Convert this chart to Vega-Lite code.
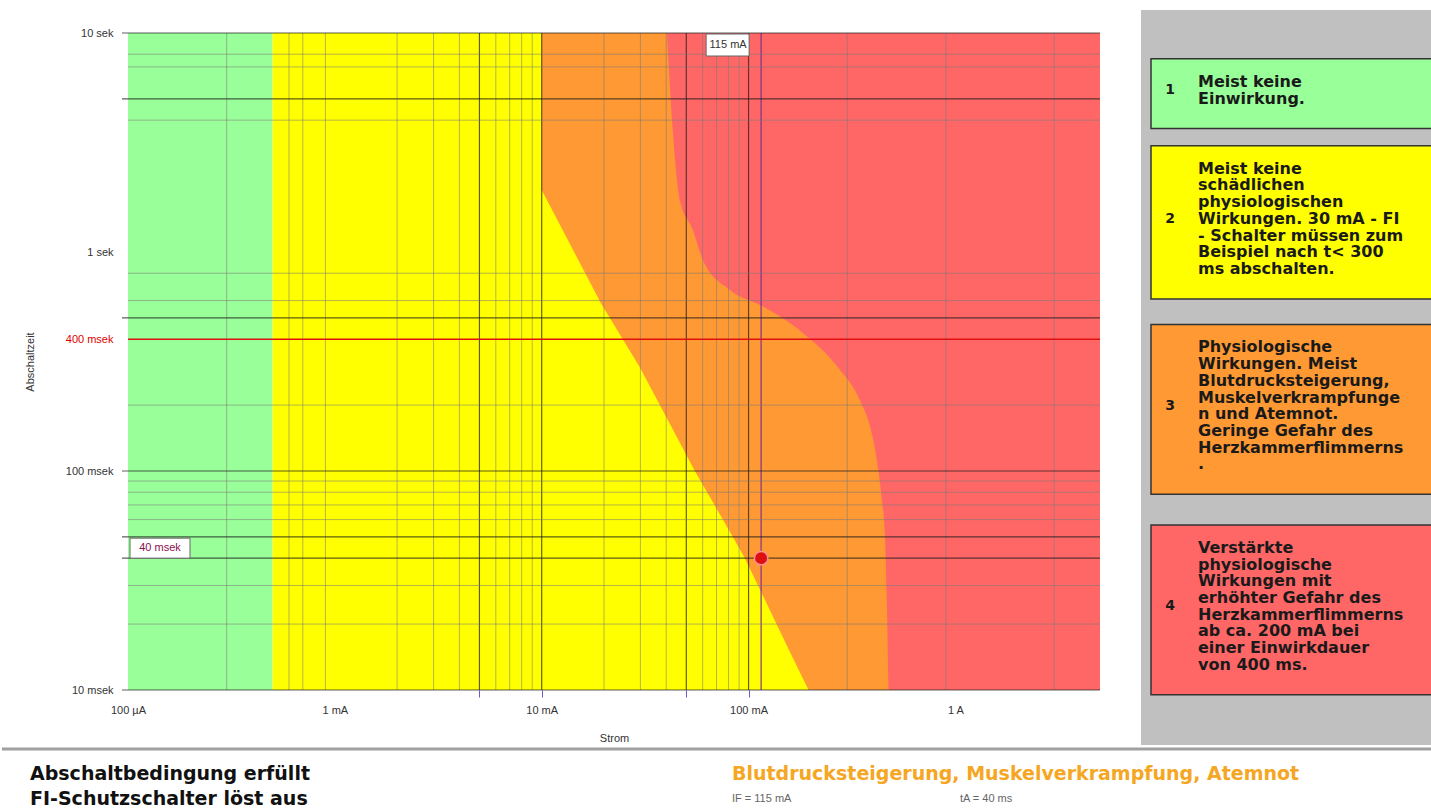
{
  "$schema": "https://vega.github.io/schema/vega-lite/v6.json",
  "background": "white",
  "padding": {"left": 0, "top": 10, "right": 0, "bottom": 0},
  "config": {"view": {"stroke": null}, "font": "Liberation Sans", "axis": {"grid": false}},
  "datasets": {
    "zonen": [
      {"zone": "1", "von": 0.1, "bis": 0.5},
      {"zone": "2", "von": 0.5, "bis": 5000}
    ],
    "kurven": [
      {"zone": "3", "I": 10, "t": 1919},
      {"zone": "3", "I": 19.3, "t": 585},
      {"zone": "3", "I": 29.8, "t": 298},
      {"zone": "3", "I": 55, "t": 100},
      {"zone": "3", "I": 84, "t": 50},
      {"zone": "3", "I": 96, "t": 40},
      {"zone": "3", "I": 120, "t": 25.8},
      {"zone": "3", "I": 157, "t": 15.2},
      {"zone": "3", "I": 195, "t": 10},
      {"zone": "3", "I": 5000, "t": 10},
      {"zone": "4", "I": 40.3, "t": 10000},
      {"zone": "4", "I": 43.1, "t": 3494},
      {"zone": "4", "I": 46.5, "t": 1727},
      {"zone": "4", "I": 53.8, "t": 1260},
      {"zone": "4", "I": 60.1, "t": 919},
      {"zone": "4", "I": 81.2, "t": 671},
      {"zone": "4", "I": 117, "t": 565},
      {"zone": "4", "I": 183, "t": 427},
      {"zone": "4", "I": 270, "t": 298},
      {"zone": "4", "I": 345, "t": 211},
      {"zone": "4", "I": 394, "t": 149},
      {"zone": "4", "I": 422, "t": 104},
      {"zone": "4", "I": 441, "t": 73.8},
      {"zone": "4", "I": 456, "t": 52.1},
      {"zone": "4", "I": 466, "t": 25.8},
      {"zone": "4", "I": 477, "t": 10},
      {"zone": "4", "I": 5000, "t": 10}
    ],
    "vlinien": [
      {"I": 0.3, "art": "minor"}, {"I": 0.6, "art": "minor"}, {"I": 0.7, "art": "minor"}, {"I": 0.9, "art": "minor"},
      {"I": 2, "art": "minor"}, {"I": 3, "art": "minor"}, {"I": 4, "art": "minor"}, {"I": 6, "art": "minor"},
      {"I": 7, "art": "minor"}, {"I": 8, "art": "minor"}, {"I": 9, "art": "minor"},
      {"I": 20, "art": "minor"}, {"I": 30, "art": "minor"}, {"I": 40, "art": "minor"}, {"I": 60, "art": "minor"},
      {"I": 70, "art": "minor"}, {"I": 80, "art": "minor"}, {"I": 90, "art": "minor"},
      {"I": 300, "art": "minor"}, {"I": 900, "art": "minor"}, {"I": 3000, "art": "minor"},
      {"I": 5, "art": "major"}, {"I": 10, "art": "major"}, {"I": 50, "art": "major"}, {"I": 100, "art": "major"},
      {"I": 115, "art": "marker"}
    ],
    "hlinien": [
      {"t": 8000, "art": "minor"}, {"t": 7000, "art": "minor"}, {"t": 4000, "art": "minor"},
      {"t": 800, "art": "minor"}, {"t": 600, "art": "minor"}, {"t": 200, "art": "minor"},
      {"t": 90, "art": "minor"}, {"t": 80, "art": "minor"}, {"t": 70, "art": "minor"}, {"t": 60, "art": "minor"},
      {"t": 30, "art": "minor"}, {"t": 20, "art": "minor"},
      {"t": 400, "art": "limit"},
      {"t": 10000, "art": "major"}, {"t": 5000, "art": "major"}, {"t": 500, "art": "major"},
      {"t": 100, "art": "major"}, {"t": 50, "art": "major"}, {"t": 40, "art": "major"}, {"t": 10, "art": "major"}
    ],
    "marke": [{"I": 115, "t": 40, "strom": "115 mA", "zeit": "40 msek"}],
    "legende": [
      {"zone": "1", "pos": 4.3, "zeile": "Meist keine"},
      {"zone": "1", "pos": 5.3, "zeile": "Einwirkung."},
      {"zone": "2", "pos": 9.5, "zeile": "Meist keine"},
      {"zone": "2", "pos": 10.5, "zeile": "schädlichen"},
      {"zone": "2", "pos": 11.5, "zeile": "physiologischen"},
      {"zone": "2", "pos": 12.5, "zeile": "Wirkungen. 30 mA - FI"},
      {"zone": "2", "pos": 13.5, "zeile": "- Schalter müssen zum"},
      {"zone": "2", "pos": 14.5, "zeile": "Beispiel nach t< 300"},
      {"zone": "2", "pos": 15.5, "zeile": "ms abschalten."},
      {"zone": "3", "pos": 20.2, "zeile": "Physiologische"},
      {"zone": "3", "pos": 21.2, "zeile": "Wirkungen. Meist"},
      {"zone": "3", "pos": 22.2, "zeile": "Blutdrucksteigerung,"},
      {"zone": "3", "pos": 23.2, "zeile": "Muskelverkrampfunge"},
      {"zone": "3", "pos": 24.2, "zeile": "n und Atemnot."},
      {"zone": "3", "pos": 25.2, "zeile": "Geringe Gefahr des"},
      {"zone": "3", "pos": 26.2, "zeile": "Herzkammerflimmerns"},
      {"zone": "3", "pos": 27.2, "zeile": "."},
      {"zone": "4", "pos": 32.2, "zeile": "Verstärkte"},
      {"zone": "4", "pos": 33.2, "zeile": "physiologische"},
      {"zone": "4", "pos": 34.2, "zeile": "Wirkungen mit"},
      {"zone": "4", "pos": 35.2, "zeile": "erhöhter Gefahr des"},
      {"zone": "4", "pos": 36.2, "zeile": "Herzkammerflimmerns"},
      {"zone": "4", "pos": 37.2, "zeile": "ab ca. 200 mA bei"},
      {"zone": "4", "pos": 38.2, "zeile": "einer Einwirkdauer"},
      {"zone": "4", "pos": 39.2, "zeile": "von 400 ms."}
    ],
    "status": [
      {"spalte": "links", "zeile": "oben", "art": "status", "text": "Abschaltbedingung erfüllt"},
      {"spalte": "links", "zeile": "unten", "art": "status", "text": "FI-Schutzschalter löst aus"},
      {"spalte": "rechts", "zeile": "oben", "art": "wirkung", "text": "Blutdrucksteigerung, Muskelverkrampfung, Atemnot"},
      {"spalte": "rechts", "zeile": "unten", "art": "strom", "text": "IF = 115 mA"},
      {"spalte": "rechts", "zeile": "unten", "art": "zeit", "text": "tA = 40 ms"}
    ]
  },
  "spacing": 2,
  "vconcat": [
    {
      "spacing": 40,
      "hconcat": [
        {
          "width": 972,
          "height": 680,
          "layer": [
            {
              "data": {"name": "zonen"},
              "mark": {"type": "rect"},
              "encoding": {
                "x": {
                  "field": "von", "type": "quantitative", "title": "Strom",
                  "scale": {"type": "log", "domain": [0.1, 5000], "nice": false},
                  "axis": {
                    "values": [0.1, 1, 5, 10, 50, 100, 1000],
                    "labelExpr": "datum.value == 0.1 ? '100 µA' : datum.value == 1 ? '1 mA' : datum.value == 10 ? '10 mA' : datum.value == 100 ? '100 mA' : datum.value == 1000 ? '1 A' : ''",
                    "domain": false,
                    "ticks": true,
                    "tickSize": 7,
                    "tickWidth": 1,
                    "tickColor": {"condition": {"test": "datum.value == 5 || datum.value == 10 || datum.value == 50 || datum.value == 100", "value": "#6a5acd"}, "value": "rgba(0,0,0,0)"},
                    "labelPadding": 7,
                    "labelFontSize": 11,
                    "labelColor": "#333",
                    "labelFlush": false,
                    "labelOverlap": false,
                    "titleFontSize": 11,
                    "titleFontWeight": "normal",
                    "titleColor": "#333",
                    "titlePadding": 17
                  }
                },
                "x2": {"field": "bis"},
                "y": {"datum": 10, "type": "quantitative", "title": "Abschaltzeit", "scale": {"type": "log", "domain": [10, 10000], "nice": false, "range": [680, 23]}},
                "y2": {"datum": 10000},
                "fill": {"field": "zone", "type": "nominal", "scale": {"domain": ["1", "2", "3", "4"], "range": ["#99ff99", "#ffff00", "#ff9933", "#ff6666"]}, "legend": null}
              }
            },
            {
              "data": {"name": "kurven"},
              "transform": [{"filter": "datum.zone == '3'"}],
              "mark": {"type": "area", "interpolate": "linear"},
              "encoding": {
                "y": {
                  "field": "t", "type": "quantitative", "title": "Abschaltzeit",
                  "scale": {"type": "log", "domain": [10, 10000], "nice": false, "range": [680, 23]},
                  "axis": {
                    "values": [10, 100, 400, 1000, 10000],
                    "labelExpr": "datum.value >= 1000 ? format(datum.value / 1000, 'd') + ' sek' : datum.value + ' msek'",
                    "domain": false,
                    "ticks": false,
                    "labelPadding": 15,
                    "labelFontSize": 11,
                    "labelColor": {"condition": {"test": "datum.value == 400", "value": "#e00000"}, "value": "#333"},
                    "labelOverlap": false,
                    "labelFlush": false,
                    "titleFontSize": 11,
                    "titleFontWeight": "normal",
                    "titleColor": "#333",
                    "titlePadding": 30
                  }
                },
                "y2": {"datum": 10000},
                "x": {"field": "I", "type": "quantitative", "title": "Strom", "scale": {"type": "log", "domain": [0.1, 5000], "nice": false}},
                "fill": {"field": "zone", "type": "nominal", "legend": null}
              }
            },
            {
              "data": {"name": "kurven"},
              "transform": [{"filter": "datum.zone == '4'"}],
              "mark": {"type": "area", "interpolate": "monotone"},
              "encoding": {
                "y": {"field": "t", "type": "quantitative", "title": "Abschaltzeit", "scale": {"type": "log", "domain": [10, 10000], "nice": false, "range": [680, 23]}},
                "y2": {"datum": 10000},
                "x": {"field": "I", "type": "quantitative", "title": "Strom", "scale": {"type": "log", "domain": [0.1, 5000], "nice": false}},
                "fill": {"field": "zone", "type": "nominal", "legend": null}
              }
            },
            {
              "data": {"name": "vlinien"},
              "mark": {"type": "rule"},
              "encoding": {
                "x": {"field": "I", "type": "quantitative", "title": "Strom", "scale": {"type": "log", "domain": [0.1, 5000], "nice": false}},
                "y": {"datum": 10, "type": "quantitative", "title": "Abschaltzeit"},
                "y2": {"datum": 10000},
                "stroke": {"field": "art", "type": "nominal", "scale": {"domain": ["minor", "major", "marker", "limit"], "range": ["#7a7a7a", "#1a1a1a", "#7b2d8e", "#e01010"]}, "legend": null},
                "strokeWidth": {"field": "art", "type": "nominal", "scale": {"domain": ["minor", "major", "marker", "limit"], "range": [1, 1.5, 2.2, 1.5]}, "legend": null},
                "opacity": {"field": "art", "type": "nominal", "scale": {"domain": ["minor", "major", "marker", "limit"], "range": [0.55, 1, 1, 1]}, "legend": null}
              }
            },
            {
              "data": {"name": "hlinien"},
              "transform": [{"filter": "datum.art != 'major'"}],
              "mark": {"type": "rule"},
              "encoding": {
                "y": {"field": "t", "type": "quantitative", "title": "Abschaltzeit"},
                "x": {"datum": 0.1, "type": "quantitative"},
                "x2": {"datum": 5000},
                "stroke": {"field": "art", "type": "nominal", "legend": null},
                "strokeWidth": {"field": "art", "type": "nominal", "legend": null},
                "opacity": {"field": "art", "type": "nominal", "legend": null}
              }
            },
            {
              "data": {"name": "hlinien"},
              "transform": [{"filter": "datum.art == 'major'"}],
              "mark": {"type": "rule", "xOffset": -6},
              "encoding": {
                "y": {"field": "t", "type": "quantitative", "title": "Abschaltzeit"},
                "x": {"datum": 0.1, "type": "quantitative"},
                "x2": {"datum": 5000},
                "stroke": {"field": "art", "type": "nominal", "legend": null},
                "strokeWidth": {"field": "art", "type": "nominal", "legend": null},
                "opacity": {"field": "art", "type": "nominal", "legend": null}
              }
            },
            {
              "data": {"name": "marke"},
              "mark": {"type": "rect", "fill": "white", "stroke": "#666", "strokeWidth": 1, "xOffset": -55, "x2Offset": -12, "yOffset": 1, "y2Offset": 23},
              "encoding": {
                "x": {"field": "I", "type": "quantitative", "title": "Strom"},
                "x2": {"field": "I"},
                "y": {"datum": 10000, "type": "quantitative"},
                "y2": {"datum": 10000}
              }
            },
            {
              "data": {"name": "marke"},
              "mark": {"type": "text", "align": "center", "baseline": "middle", "fontSize": 11, "fill": "#333", "xOffset": -33, "yOffset": 12},
              "encoding": {
                "x": {"field": "I", "type": "quantitative", "title": "Strom"},
                "y": {"datum": 10000, "type": "quantitative"},
                "text": {"field": "strom"}
              }
            },
            {
              "data": {"name": "marke"},
              "mark": {"type": "rect", "fill": "white", "stroke": "#666", "strokeWidth": 1, "xOffset": 2, "x2Offset": 62, "yOffset": -20, "y2Offset": 0},
              "encoding": {
                "x": {"datum": 0.1, "type": "quantitative"},
                "x2": {"datum": 0.1},
                "y": {"field": "t", "type": "quantitative", "title": "Abschaltzeit"},
                "y2": {"field": "t"}
              }
            },
            {
              "data": {"name": "marke"},
              "mark": {"type": "text", "align": "center", "baseline": "middle", "fontSize": 11, "fill": "#8b1050", "xOffset": 32, "yOffset": -10},
              "encoding": {
                "x": {"datum": 0.1, "type": "quantitative"},
                "y": {"field": "t", "type": "quantitative", "title": "Abschaltzeit"},
                "text": {"field": "zeit"}
              }
            },
            {
              "data": {"name": "marke"},
              "mark": {"type": "circle", "size": 180, "fill": "#dd1010", "stroke": "#ff9090", "strokeWidth": 1.5, "opacity": 1},
              "encoding": {
                "x": {"field": "I", "type": "quantitative", "title": "Strom"},
                "y": {"field": "t", "type": "quantitative", "title": "Abschaltzeit"}
              }
            }
          ]
        },
        {
          "width": 291,
          "height": 735,
          "view": {"fill": "#c0c0c0", "stroke": null},
          "data": {"name": "legende"},
          "layer": [
            {
              "mark": {"type": "rect", "xOffset": 10, "x2Offset": 5, "yOffset": -23, "y2Offset": 30, "stroke": "#333", "strokeWidth": 1.5},
              "encoding": {
                "x": {"datum": 0, "type": "quantitative", "scale": {"domain": [0, 1], "nice": false, "zero": false}, "axis": null},
                "x2": {"datum": 1},
                "y": {"aggregate": "min", "field": "pos", "type": "quantitative", "scale": {"domain": [0, 44], "reverse": true, "nice": false, "zero": false}, "axis": null},
                "y2": {"aggregate": "max", "field": "pos"},
                "fill": {"field": "zone", "type": "nominal", "scale": {"domain": ["1", "2", "3", "4"], "range": ["#99ff99", "#ffff00", "#ff9933", "#ff6666"]}, "legend": null}
              }
            },
            {
              "mark": {"type": "text", "xOffset": 29, "align": "center", "baseline": "middle", "font": "DejaVu Sans", "fontWeight": "bold", "fontSize": 14, "fill": "#1a1a1a"},
              "encoding": {
                "x": {"datum": 0, "type": "quantitative"},
                "y": {"aggregate": "mean", "field": "pos", "type": "quantitative"},
                "text": {"field": "zone", "type": "nominal"}
              }
            },
            {
              "mark": {"type": "text", "xOffset": 57, "align": "left", "baseline": "middle", "font": "DejaVu Sans", "fontWeight": "bold", "fontSize": 16, "fill": "#1a1a1a"},
              "encoding": {
                "x": {"datum": 0, "type": "quantitative"},
                "y": {"field": "pos", "type": "quantitative"},
                "text": {"field": "zeile", "type": "nominal"}
              }
            }
          ]
        }
      ]
    },
    {
      "width": 1303,
      "height": 56,
      "layer": [
        {
          "data": {"values": [{"zeile": "trenn"}]},
          "mark": {"type": "rule", "stroke": "#a0a0a0", "strokeWidth": 3, "xOffset": -28, "x2Offset": 699},
          "encoding": {
            "x": {"datum": "links", "type": "ordinal", "scale": {"type": "point", "domain": ["links", "rechts"], "range": [-98, 604], "padding": 0}, "axis": null},
            "x2": {"datum": "rechts"},
            "y": {"field": "zeile", "type": "ordinal", "scale": {"type": "point", "domain": ["trenn", "oben", "unten"], "range": [0, 50], "padding": 0}, "axis": null}
          }
        },
        {
          "data": {"name": "status"},
          "transform": [{"filter": "datum.art == 'status'"}],
          "mark": {"type": "text", "align": "left", "baseline": "middle", "font": "DejaVu Sans", "fontWeight": "bold", "fontSize": 19, "fill": "#111"},
          "encoding": {
            "x": {"field": "spalte", "type": "ordinal"},
            "y": {"field": "zeile", "type": "ordinal"},
            "text": {"field": "text"}
          }
        },
        {
          "data": {"name": "status"},
          "transform": [{"filter": "datum.art == 'wirkung'"}],
          "mark": {"type": "text", "align": "left", "baseline": "middle", "font": "DejaVu Sans", "fontWeight": "bold", "fontSize": 19, "fill": "#f5a623"},
          "encoding": {
            "x": {"field": "spalte", "type": "ordinal"},
            "y": {"field": "zeile", "type": "ordinal"},
            "text": {"field": "text"}
          }
        },
        {
          "data": {"name": "status"},
          "transform": [{"filter": "datum.art == 'strom'"}],
          "mark": {"type": "text", "align": "left", "baseline": "middle", "fontSize": 11, "fill": "#666"},
          "encoding": {
            "x": {"field": "spalte", "type": "ordinal"},
            "y": {"field": "zeile", "type": "ordinal"},
            "text": {"field": "text"}
          }
        },
        {
          "data": {"name": "status"},
          "transform": [{"filter": "datum.art == 'zeit'"}],
          "mark": {"type": "text", "align": "left", "baseline": "middle", "fontSize": 11, "fill": "#666", "xOffset": 228},
          "encoding": {
            "x": {"field": "spalte", "type": "ordinal"},
            "y": {"field": "zeile", "type": "ordinal"},
            "text": {"field": "text"}
          }
        }
      ]
    }
  ]
}
